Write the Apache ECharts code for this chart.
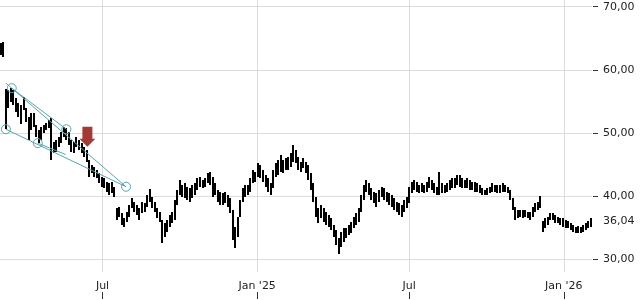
<!DOCTYPE html>
<html><head><meta charset="utf-8">
<script src="https://cdn.jsdelivr.net/npm/echarts@6/dist/echarts.min.js"></script>
<style>html,body{margin:0;padding:0;background:#fff}#c{width:640px;height:300px}</style>
</head><body><div id="c"></div>
<script>
// ---- data ----
const startDate = '2024-03-02';
const stepDays = 3;
const highs = [64.2,64.4,57.0,56.8,57.1,56.8,55.5,54.8,54.4,55.7,54.0,52.5,53.2,53.2,51.3,50.5,51.0,51.3,51.6,52.1,
52.4,48.6,48.9,49.4,50.2,51.0,50.8,50.2,48.9,48.6,49.4,48.9,48.4,47.8,47.3,45.7,44.9,44.6,44.2,43.7,
43.1,42.9,42.3,42.1,42.3,41.5,38.1,38.3,37.3,36.6,37.5,38.6,39.7,39.1,38.6,38.1,39.1,38.9,40.2,41.1,
39.9,39.1,38.1,37.5,36.3,35.8,36.3,37.0,37.5,39.4,41.0,42.6,41.8,42.1,41.5,41.3,41.8,42.1,42.9,43.1,
42.6,42.9,43.7,43.9,43.1,42.1,41.0,40.7,40.5,40.7,40.2,39.7,37.8,35.1,36.7,39.4,41.3,41.8,41.8,42.9,
44.2,43.9,45.2,44.9,44.2,43.4,42.9,42.1,44.2,45.2,45.7,46.5,45.7,46.0,46.2,46.8,48.1,47.3,46.2,45.4,
46.0,45.4,44.9,43.7,42.1,39.9,38.1,38.6,38.1,37.5,37.0,36.6,35.5,34.7,33.4,34.3,35.0,35.0,35.5,35.9,
36.7,37.3,38.1,40.2,41.8,42.6,42.1,41.3,40.7,40.5,41.0,41.5,41.3,40.7,40.5,40.2,39.7,39.1,38.9,38.6,
39.4,39.9,41.5,42.3,42.6,42.3,41.8,42.1,41.8,42.3,43.1,42.6,42.1,41.5,43.9,42.1,41.8,42.1,42.6,42.9,
42.9,43.4,43.4,42.9,42.6,42.9,42.6,42.3,42.3,42.1,41.8,41.3,41.0,41.3,41.5,42.1,41.8,41.8,41.8,42.1,
41.8,41.5,41.0,39.7,38.3,37.8,37.8,37.8,37.8,37.5,37.5,38.3,38.9,39.1,40.0,36.0,36.6,36.7,37.3,37.3,
37.0,36.7,36.6,36.6,36.3,36.0,35.8,35.5,35.1,35.3,35.1,35.5,35.8,36.0,36.6];
const lows = [62.4,62.0,50.6,54.0,54.9,54.4,53.3,52.5,51.4,53.7,51.8,48.9,50.5,51.0,49.4,48.4,48.9,50.0,50.5,50.8,
45.7,46.8,47.0,47.8,48.4,49.4,48.9,48.1,47.0,46.8,47.8,47.3,46.8,46.2,45.4,43.0,43.6,43.0,42.9,42.1,
41.5,41.3,40.7,40.2,40.5,39.9,36.2,36.7,35.4,35.1,35.9,36.7,38.1,37.5,37.0,36.2,37.3,37.5,38.3,39.1,
38.1,37.5,36.6,35.9,32.6,33.6,34.4,35.1,35.8,36.2,38.6,40.2,39.9,39.7,39.4,39.1,39.7,40.2,41.0,41.5,
41.3,41.5,42.1,41.8,39.9,40.2,39.1,38.6,38.6,38.9,38.3,37.3,33.1,31.8,33.6,36.7,39.1,39.9,40.2,40.7,
42.1,42.3,43.0,42.9,42.3,41.5,40.7,40.2,41.3,43.0,43.4,43.9,43.7,44.2,44.2,44.6,45.4,45.2,44.2,43.9,
44.5,43.7,42.6,41.0,39.1,36.7,35.8,36.6,35.9,35.4,35.1,34.7,33.6,32.3,30.9,32.0,32.8,33.4,33.9,34.2,
35.0,35.4,35.9,37.5,39.4,40.7,40.2,39.4,38.9,38.3,39.1,39.8,39.4,39.1,38.6,38.3,37.8,37.5,37.0,36.7,
37.5,38.1,38.9,40.5,41.0,40.7,40.5,40.7,40.5,40.7,41.3,41.0,40.5,40.2,40.2,40.5,40.5,40.7,41.0,41.3,
41.3,41.8,41.5,41.3,41.3,41.3,41.0,41.0,40.7,40.7,40.5,40.2,40.2,40.2,40.5,40.7,40.7,40.5,40.5,40.7,
40.7,40.5,39.4,37.8,36.2,36.6,36.7,36.6,36.7,36.6,36.3,36.7,37.5,37.8,38.1,34.4,35.0,35.5,36.3,36.3,
35.8,35.8,35.5,35.1,35.0,35.0,34.7,34.4,34.2,34.2,34.2,34.4,34.7,35.0,35.1];
const xTickDates = ['2024-07-01','2025-01-01','2025-07-01','2026-01-01'];
const xTickLabels = ['Jul', "Jan '25", 'Jul', "Jan '26"];
const yTicks = [30, 40, 50, 60, 70];
const lastPrice = 36.04;
const xRange = ['2024-03-01', '2026-02-03T12:00'];
const yRange = [28, 71.06];
const wedgeLines = [
  [['2024-03-08', 57.9], ['2024-07-29', 41.5]],
  [['2024-03-15', 57.1], ['2024-05-19', 50.6]],
  [['2024-03-08', 50.6], ['2024-07-29', 41.5]],
  [['2024-04-15', 48.4], ['2024-05-18', 46.6]]
];
const wedgePoints = [['2024-03-08', 50.6], ['2024-03-15', 57.1], ['2024-04-15', 48.4], ['2024-05-19', 50.6], ['2024-07-29', 41.5]];
const arrowPoint = ['2024-06-13', 49.4];

// ---- helpers ----
function ts(s) {
  const [d, t] = s.split('T');
  const [y, m, dd] = d.split('-').map(Number);
  let h = 0, mi = 0;
  if (t) { [h, mi] = t.split(':').map(Number); }
  return Date.UTC(y, m - 1, dd, h, mi);
}
const DAY = 86400000;
const t0 = ts(startDate);
const barData = highs.map((h, i) => [t0 + i * stepDays * DAY, lows[i], h]);
const tickTs = xTickDates.map(ts);
const fmtNum = v => v.toFixed(2).replace('.', ',');
const teal = '#5aa4ae';

const series = [{
  type: 'custom',
  data: barData,
  encode: { x: 0, y: [1, 2] },
  clip: true,
  silent: true,
  renderItem: function (params, api) {
    const pLow = api.coord([api.value(0), api.value(1)]);
    const pHigh = api.coord([api.value(0), api.value(2)]);
    const x = Math.round(pLow[0]) - 1;
    const top = Math.round(pHigh[1]);
    const h = Math.max(1, Math.round(pLow[1]) - top);
    return { type: 'rect', shape: { x: x, y: top, width: 2, height: h }, style: { fill: '#000' } };
  }
}];
wedgeLines.forEach(seg => series.push({
  type: 'line', data: seg.map(p => [ts(p[0]), p[1]]), showSymbol: false,
  lineStyle: { color: teal, width: 1 }, silent: true, z: 5
}));
series.push({
  type: 'scatter', data: wedgePoints.map(p => [ts(p[0]), p[1]]), symbol: 'circle', symbolSize: 9,
  itemStyle: { color: 'rgba(255,255,255,0)', borderColor: teal, borderWidth: 1, opacity: 1 }, silent: true, z: 6
});
series.push({
  type: 'scatter', data: [[ts(arrowPoint[0]), arrowPoint[1]]],
  symbol: 'path://M3,0 L13,0 L13,12 L16,12 L8,20 L0,12 L3,12 Z', symbolSize: [16, 20],
  itemStyle: { color: '#a33a33', opacity: 1 }, silent: true, z: 7
});

const chart = echarts.init(document.getElementById('c'), null, { renderer: 'canvas' });
chart.setOption({
  animation: false,
  backgroundColor: '#fff',
  grid: { left: 0, right: 48, top: 0, bottom: 28 },
  xAxis: {
    type: 'value', min: ts(xRange[0]), max: ts(xRange[1]), scale: true, offset: 27,
    axisLine: { show: false },
    axisTick: { show: true, inside: true, length: 7, customValues: tickTs, lineStyle: { color: '#333' } },
    splitLine: { show: true, lineStyle: { color: '#dcdcdc', width: 1 } },
    axisLabel: {
      customValues: tickTs, inside: true, margin: 7,
      fontFamily: 'DejaVu Sans', fontSize: 11, color: '#222',
      formatter: v => { const k = tickTs.indexOf(v); return k >= 0 ? xTickLabels[k] : ''; }
    }
  },
  yAxis: {
    type: 'value', position: 'right', min: yRange[0], max: yRange[1], offset: 1,
    axisLine: { show: false },
    axisTick: { show: true, length: 5, customValues: yTicks, lineStyle: { color: '#333' } },
    splitLine: { show: true, lineStyle: { color: '#dcdcdc', width: 1 } },
    axisLabel: {
      customValues: yTicks.concat([lastPrice]), margin: 10,
      fontFamily: 'DejaVu Sans', fontSize: 11, color: '#222',
      formatter: v => fmtNum(v)
    }
  },
  series: series
});
</script>
</body></html>
